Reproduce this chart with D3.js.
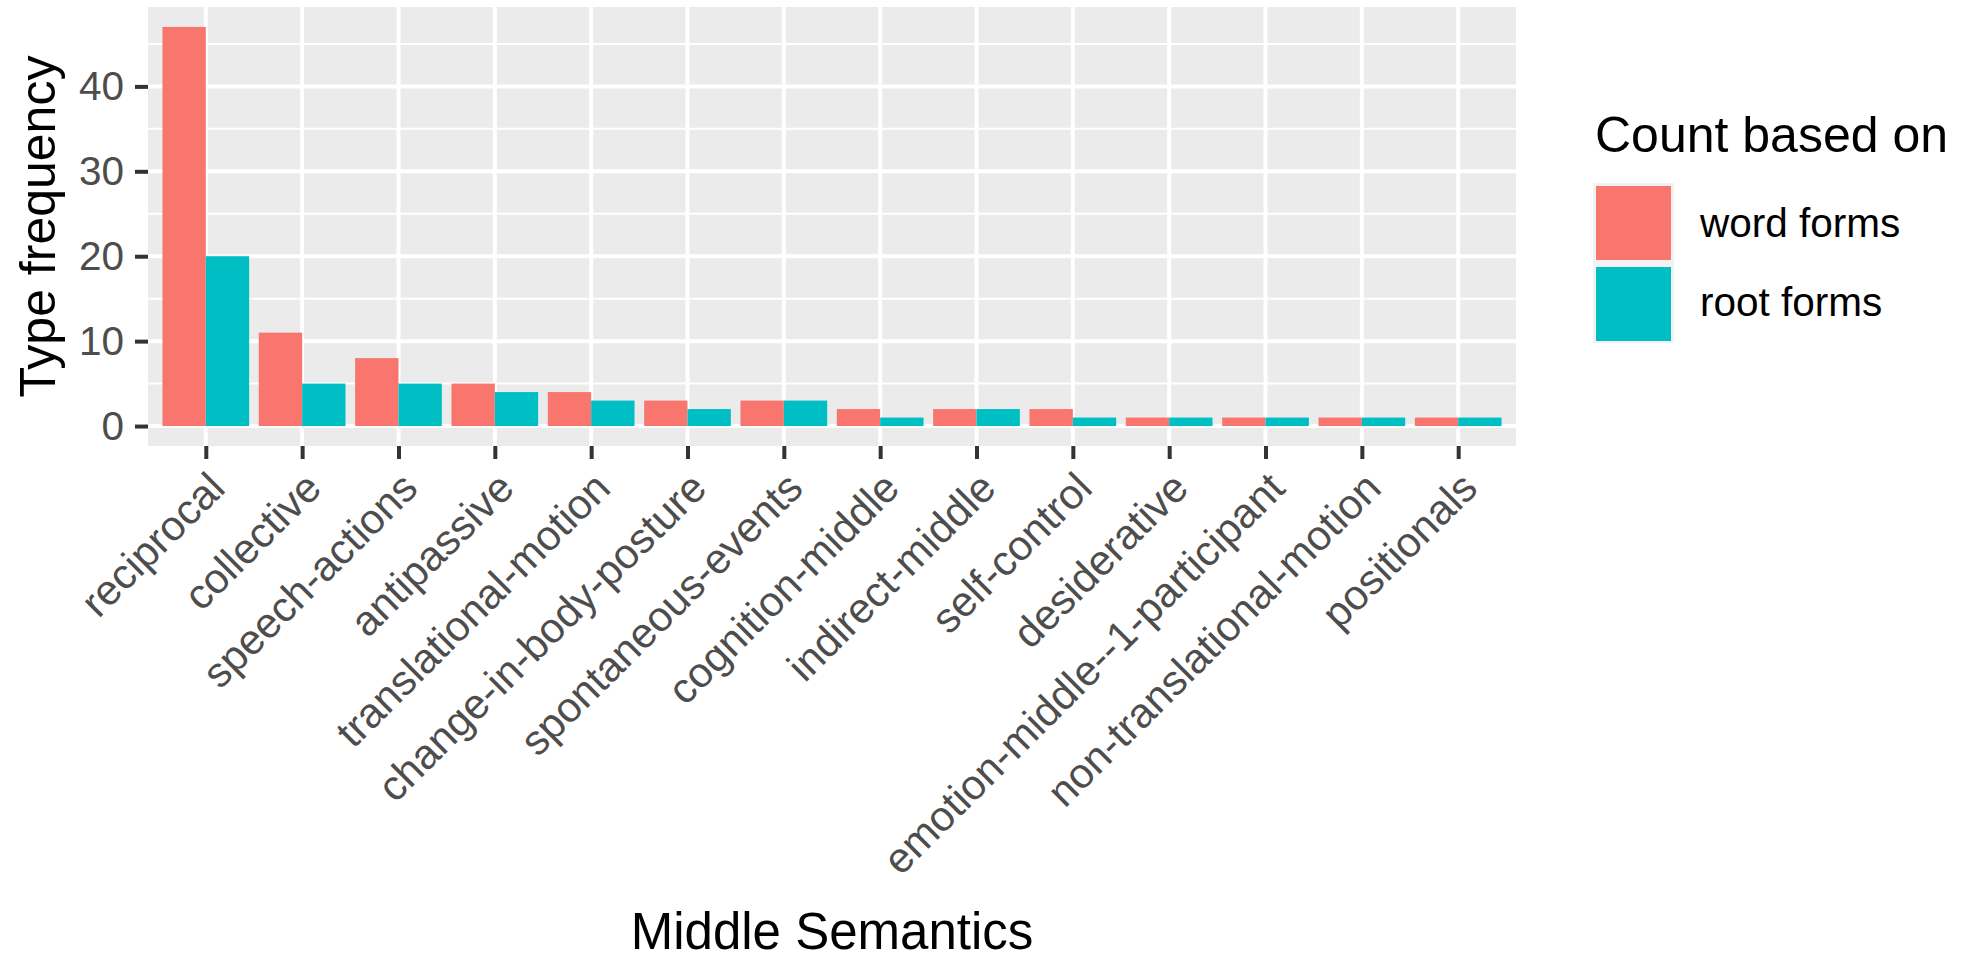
<!DOCTYPE html>
<html>
<head>
<meta charset="utf-8">
<script src="https://cdn.jsdelivr.net/npm/d3@7"></script>
<style>
  html, body { margin: 0; padding: 0; background: #ffffff; }
  svg { display: block; }
  text { font-family: "Liberation Sans", Arial, Helvetica, sans-serif; }
</style>
</head>
<body>
<div id="chart"></div>
<script>
// ---- data ----
const categories = [
  "reciprocal", "collective", "speech-actions", "antipassive",
  "translational-motion", "change-in-body-posture", "spontaneous-events",
  "cognition-middle", "indirect-middle", "self-control", "desiderative",
  "emotion-middle--1-participant", "non-translational-motion", "positionals"
];
const seriesNames = ["word forms", "root forms"];
const wordForms = [47, 11, 8, 5, 4, 3, 3, 2, 2, 2, 1, 1, 1, 1];
const rootForms = [20, 5, 5, 4, 3, 2, 3, 1, 2, 1, 1, 1, 1, 1];
const yTicks = [0, 10, 20, 30, 40];
const yMinorTicks = [5, 15, 25, 35, 45];
const colors = ["#F8766D", "#00BFC4"];
const xTitle = "Middle Semantics";
const yTitle = "Type frequency";
const legendTitle = "Count based on";

// ---- layout ----
const W = 1973, H = 957;
const panel = { left: 148, right: 1516, top: 7, bottom: 446 };

const svg = d3.select("#chart").append("svg")
  .attr("width", W).attr("height", H);

// scales (ggplot-like expansion)
const yMax = d3.max(wordForms.concat(rootForms));
const yPad = yMax * 0.05;
const y = d3.scaleLinear()
  .domain([-yPad, yMax + yPad])
  .range([panel.bottom, panel.top]);

const nCat = categories.length;
const step = (panel.right - panel.left) / (nCat - 1 + 1.2);
const x = d3.scalePoint()
  .domain(categories)
  .range([panel.left + 0.6 * step, panel.right - 0.6 * step]);

const xSub = d3.scaleBand()
  .domain(seriesNames)
  .range([-0.45 * step, 0.45 * step])
  .padding(0);

// panel background
svg.append("rect")
  .attr("x", panel.left).attr("y", panel.top)
  .attr("width", panel.right - panel.left)
  .attr("height", panel.bottom - panel.top)
  .attr("fill", "#EBEBEB");

// minor grid
svg.append("g").selectAll("line").data(yMinorTicks).join("line")
  .attr("x1", panel.left).attr("x2", panel.right)
  .attr("y1", d => y(d)).attr("y2", d => y(d))
  .attr("stroke", "#ffffff").attr("stroke-width", 2);

// major grid
svg.append("g").selectAll("line").data(yTicks).join("line")
  .attr("x1", panel.left).attr("x2", panel.right)
  .attr("y1", d => y(d)).attr("y2", d => y(d))
  .attr("stroke", "#ffffff").attr("stroke-width", 4);
svg.append("g").selectAll("line").data(categories).join("line")
  .attr("x1", d => x(d)).attr("x2", d => x(d))
  .attr("y1", panel.top).attr("y2", panel.bottom)
  .attr("stroke", "#ffffff").attr("stroke-width", 4);

// bars
const rows = categories.map((c, i) => ({ cat: c, vals: [wordForms[i], rootForms[i]] }));
const barG = svg.append("g");
rows.forEach(r => {
  seriesNames.forEach((s, si) => {
    const v = r.vals[si];
    barG.append("rect")
      .attr("x", x(r.cat) + xSub(s))
      .attr("width", xSub.bandwidth())
      .attr("y", y(v))
      .attr("height", y(0) - y(v))
      .attr("fill", colors[si]);
  });
});

// y axis
const yAxis = d3.axisLeft(y).tickValues(yTicks).tickSize(13).tickPadding(11).tickFormat(d3.format("d"));
const yg = svg.append("g").attr("transform", `translate(${panel.left},0)`).call(yAxis);
yg.select(".domain").remove();
yg.selectAll(".tick line").attr("stroke", "#333333").attr("stroke-width", 4);
yg.selectAll(".tick text").attr("fill", "#4D4D4D").attr("font-size", 40.5)
  .attr("font-family", "Liberation Sans, Arial, sans-serif");

// x axis
const xAxis = d3.axisBottom(x).tickSize(13).tickFormat("");
const xg = svg.append("g").attr("transform", `translate(0,${panel.bottom})`).call(xAxis);
xg.select(".domain").remove();
xg.selectAll(".tick line").attr("stroke", "#333333").attr("stroke-width", 4);
xg.selectAll(".tick text").remove();

// x tick labels rotated 45
svg.append("g").selectAll("text").data(categories).join("text")
  .attr("transform", d => `translate(${x(d)},${panel.bottom + 13 + 10}) rotate(-45)`)
  .attr("text-anchor", "end")
  .attr("dy", "0.72em")
  .attr("fill", "#4D4D4D")
  .attr("font-size", 42)
  .text(d => d);

// axis titles
svg.append("text")
  .attr("x", (panel.left + panel.right) / 2)
  .attr("y", 949)
  .attr("text-anchor", "middle")
  .attr("font-size", 51)
  .attr("fill", "#000")
  .text(xTitle);

svg.append("text")
  .attr("transform", `translate(55,${(panel.top + panel.bottom) / 2}) rotate(-90)`)
  .attr("text-anchor", "middle")
  .attr("font-size", 50)
  .attr("fill", "#000")
  .text(yTitle);

// legend
const lg = svg.append("g");
lg.append("text")
  .attr("x", 1595).attr("y", 152)
  .attr("font-size", 50)
  .attr("fill", "#000")
  .text(legendTitle);

lg.append("rect")
  .attr("x", 1593).attr("y", 183).attr("width", 81).attr("height", 160)
  .attr("fill", "#F2F2F2");
const keyY = [186, 267];
const labY = [237, 316];
seriesNames.forEach((s, i) => {
  lg.append("rect")
    .attr("x", 1596).attr("y", keyY[i]).attr("width", 75).attr("height", 74)
    .attr("fill", colors[i]);
  lg.append("text")
    .attr("x", 1700).attr("y", labY[i])
    .attr("font-size", 40.5)
    .attr("fill", "#000")
    .text(s);
});
</script>
</body>
</html>
